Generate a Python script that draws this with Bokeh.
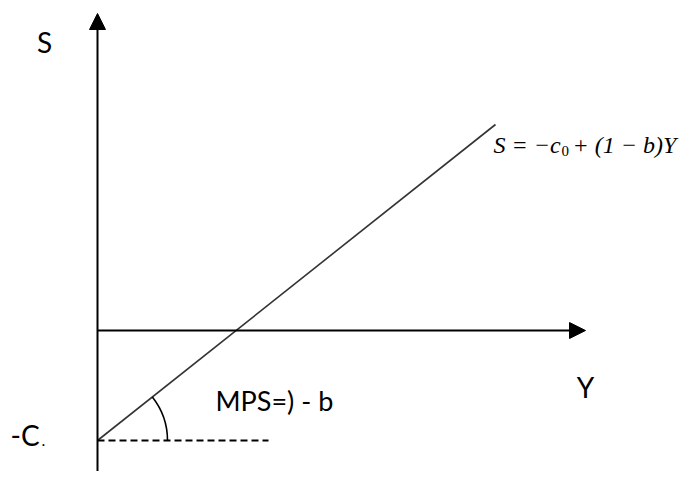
import math
from bokeh.plotting import figure
from bokeh.models import Range1d, Arrow, NormalHead, Label
from bokeh.embed import file_html
from bokeh.resources import INLINE

# ---- chart values (model units, 1 unit = 10 px) ----
c0 = 11.0                      # intercept magnitude -c0
saving_Y = [0.0, 39.8]         # saving function S = -c0 + (1-b)Y
saving_S = [-11.0, 20.6]
dash_Y = [0.0, 17.1]           # horizontal reference at -c0
dash_S = [-11.0, -11.0]
y_axis_end = 48.8              # Y axis arrow tip
s_axis_top = 31.7              # S axis arrow tip
s_axis_bottom = -15.8
arc_radius = 7.0

eq_main = "S = \u2212c"
eq_sub = "0"
eq_rest = "+ (1 \u2212 b)Y"
label_S = "S"
label_Y = "Y"
label_C = "-C"
label_C_sub = "."
label_mps = "MPS=) - b"

p = figure(width=683, height=471,
           x_range=Range1d(-9.7, 58.6), y_range=Range1d(-14.1, 33.0),
           x_axis_type=None, y_axis_type=None,
           output_backend="svg", toolbar_location=None, min_border=0)
p.grid.visible = False
p.outline_line_color = None
p.background_fill_color = "white"

# axes with arrowheads
p.add_layout(Arrow(end=NormalHead(size=16, fill_color="black", line_color="black"),
                   x_start=0, y_start=s_axis_bottom, x_end=0, y_end=s_axis_top,
                   line_color="black", line_width=2))
p.add_layout(Arrow(end=NormalHead(size=16, fill_color="black", line_color="black"),
                   x_start=0, y_start=0, x_end=y_axis_end, y_end=0,
                   line_color="black", line_width=2))

# saving function
p.line(saving_Y, saving_S, line_color="#333333", line_width=1.6)
# dashed reference
p.line(dash_Y, dash_S, line_color="black", line_width=2, line_dash="7 4")
# slope angle arc
slope_angle = math.atan2(saving_S[1] - saving_S[0], saving_Y[1] - saving_Y[0])
p.arc(x=[saving_Y[0]], y=[saving_S[0]], radius=arc_radius,
      start_angle=0, end_angle=slope_angle, line_color="black", line_width=1.6)

sans = "Lato"
def lab(txt, x, y, size, align="left", font=sans, style="normal"):
    p.add_layout(Label(x=x, y=y, text=txt, text_font=font, text_font_size=size,
                       text_align=align, text_baseline="alphabetic",
                       text_color="black", text_font_style=style))

lab(label_S, -5.3, 28.9, "28px", "center")
lab(label_Y, 48.8, -5.6, "28px", "center")
lab(label_C, -8.7, -10.4, "28px")
lab(label_C_sub, -5.6, -11.0, "16px")
lab(label_mps, 11.8, -7.0, "27px")

serif = "Liberation Serif"
lab(eq_main, 39.6, 18.6, "24px", font=serif, style="italic")
lab(eq_sub, 46.4, 18.0, "15px", font=serif)
lab(eq_rest, 47.5, 18.6, "24px", font=serif, style="italic")

open("out.html", "w").write(file_html(p, INLINE))
